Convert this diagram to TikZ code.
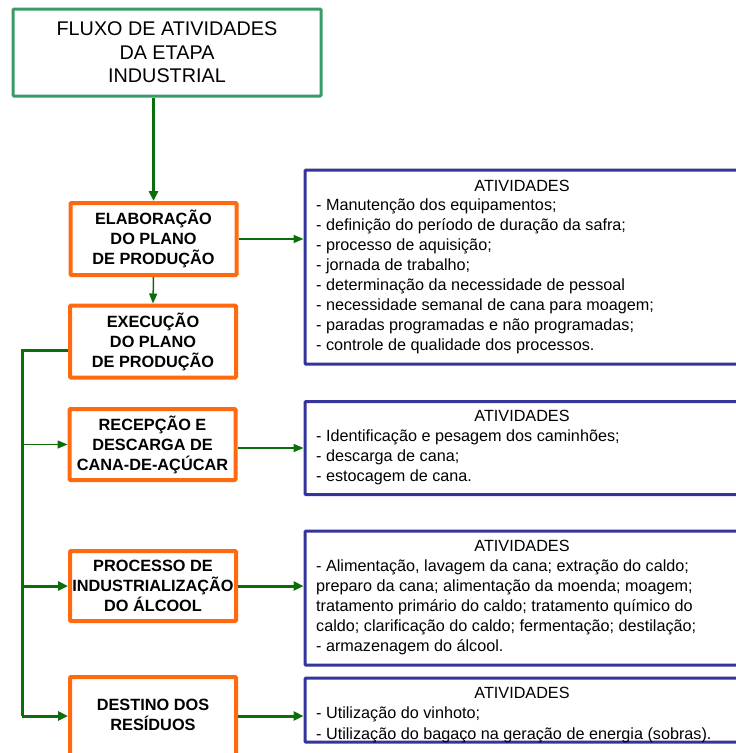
\documentclass[tikz,border=0pt]{standalone}
\usepackage{fontspec}
\setmainfont{Liberation Sans}
\usetikzlibrary{arrows.meta}

\definecolor{titlegreen}{HTML}{3A9A68}
\definecolor{arrowgreen}{HTML}{0A6E0A}
\definecolor{stageorange}{HTML}{FF6A10}
\definecolor{listblue}{HTML}{34349A}

\tikzset{
  titlebox/.style={draw=titlegreen, line width=3pt, rounded corners=1pt,
    minimum width=308pt, minimum height=87pt, align=center,
    font=\fontsize{19.8}{23.5}\selectfont},
  stagebox/.style={draw=stageorange, line width=4pt, rounded corners=1pt, fill=white,
    minimum width=166pt, minimum height=72pt, align=center, inner sep=0pt,
    font=\fontsize{16.3}{20}\selectfont\bfseries},
  listbox/.style={draw=listblue, line width=3.2pt, rounded corners=1pt,
    minimum width=438pt, anchor=north west, inner sep=0pt},
  listhead/.style={inner sep=0pt, font=\fontsize{16.2}{19}\selectfont,
    text height=11.5pt, text depth=3.5pt},
  listline/.style={anchor=west, inner sep=0pt, font=\fontsize{16.2}{19}\selectfont,
    text height=11.5pt, text depth=3.5pt},
  thinflow/.style={draw=arrowgreen, line width=1.5pt,
    -{Triangle[length=10pt,width=8pt]}},
  thickflow/.style={draw=arrowgreen, line width=3pt,
    -{Triangle[length=10pt,width=9pt]}},
  thickline/.style={draw=arrowgreen, line width=3pt},
}

\begin{document}
\begin{tikzpicture}[x=1pt, y=-1pt]
  \useasboundingbox (0,0) rectangle (736,753);
  \clip (0,0) rectangle (736,753);

  % title
  \node[titlebox] (title) at (167,52.5) {FLUXO DE ATIVIDADES\\DA ETAPA\\INDUSTRIAL};

  % stages
  \node[stagebox] (elab)  at (153.5,239)   {ELABORAÇÃO\\DO PLANO\\DE PRODUÇÃO};
  \node[stagebox] (exec)  at (153,341.5)   {EXECUÇÃO\\DO PLANO\\DE PRODUÇÃO};
  \node[stagebox, minimum height=71pt] (recep) at (152.5,444.5) {RECEPÇÃO E\\DESCARGA DE\\CANA-DE-AÇÚCAR};
  \node[stagebox, minimum height=70pt] (proc)  at (153,586)     {PROCESSO DE\\INDUSTRIALIZAÇÃO\\DO ÁLCOOL};
  \node[stagebox, minimum height=84pt, text depth=8pt] (dest) at (153,719) {DESTINO DOS\\RESÍDUOS};

  % activity boxes
  \node[listbox, minimum height=194pt] (b1) at (303.5,168.5) {};
  \node[listbox, minimum height=93pt]  (b2) at (303.5,400)   {};
  \node[listbox, minimum height=134pt] (b3) at (303.5,529.5) {};
  \node[listbox, minimum height=64pt]  (b4) at (303.5,676.5) {};

  % activity texts
  \node[listhead] (h1) at (522,187) {ATIVIDADES};
  \foreach \t [count=\i] in {
      - Manutenção dos equipamentos;,
      - definição do período de duração da safra;,
      - processo de aquisição;,
      - jornada de trabalho;,
      - determinação da necessidade de pessoal,
      - necessidade semanal de cana para moagem;,
      - paradas programadas e não programadas;,
      - controle de qualidade dos processos.}
    \node[listline] (b1l\i) at (316,187+19.9*\i) {\t};

  \node[listhead] (h2) at (522,417) {ATIVIDADES};
  \foreach \t [count=\i] in {
      - Identificação e pesagem dos caminhões;,
      - descarga de cana;,
      - estocagem de cana.}
    \node[listline] (b2l\i) at (316,417+20*\i) {\t};

  \node[listhead] (h3) at (522,547) {ATIVIDADES};
  \foreach \t [count=\i] in {
      - Alimentação{,} lavagem da cana; extração do caldo;,
      preparo da cana; alimentação da moenda; moagem;,
      tratamento primário do caldo; tratamento químico do,
      caldo; clarificação do caldo; fermentação; destilação;,
      - armazenagem do álcool.}
    \node[listline] (b3l\i) at (316,547+20*\i) {\t};

  \node[listhead] (h4) at (522,694) {ATIVIDADES};
  \foreach \t [count=\i] in {
      - Utilização do vinhoto;,
      - Utilização do bagaço na geração de energia (sobras).}
    \node[listline] (b4l\i) at (316,694+20.5*\i) {\t};

  % main flow
  \draw[thickflow] (title.south -| elab.north) -- (elab.north);
  \draw[thinflow] (elab.south) -- (exec.north);
  \draw[thinflow] (elab.east) -- (elab.east -| b1.west);

  % distribution bracket from the execution stage
  \coordinate (spinetop) at (22,350);
  \coordinate (spinebot) at (22,716);
  \draw[thickline] (exec.west |- spinetop) -- (spinetop) -- (spinebot);
  \draw[thinflow]  (spinetop |- recep.west) -- (recep.west);
  \draw[thickflow] (spinetop |- proc.west) -- (proc.west);
  \draw[thickflow] (spinebot) -- (spinebot -| dest.west);

  % stages to their activities
  \coordinate (recepout) at (recep.east |- 0,448);
  \draw[thinflow]  (recepout) -- (recepout -| b2.west);
  \draw[thickflow] (proc.east) -- (proc.east -| b3.west);
  \draw[thickflow] (spinebot -| dest.east) -- (spinebot -| b4.west);
\end{tikzpicture}
\end{document}
